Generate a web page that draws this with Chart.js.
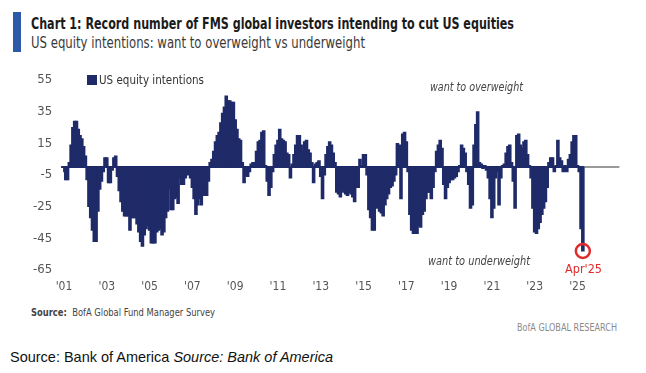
<!DOCTYPE html>
<html>
<head>
<meta charset="utf-8">
<script src="https://cdn.jsdelivr.net/npm/chart.js@4"></script>
<style>
  body { margin: 0; background: #fff; }
  #wrap { position: relative; width: 646px; height: 373px; overflow: hidden; font-family: "Liberation Sans Narrow", "DejaVu Sans Condensed", sans-serif; }
  #chartBox { position: absolute; left: 0; top: 0; width: 646px; height: 300px; }
  .t { position: absolute; white-space: nowrap; line-height: 1; transform-origin: 0 50%; }
</style>
</head>
<body>
<div id="wrap">
  <div style="position:absolute;left:13px;top:12px;width:8px;height:40px;background:#2c5aa8"></div>
  <div class="t" data-w="483" style="left:31px;top:17px;font-size:15px;font-weight:bold;color:#1b1b1b">Chart 1: Record number of FMS global investors intending to cut US equities</div>
  <div class="t" data-w="334" style="left:31px;top:36px;font-size:15px;color:#3a3a3a">US equity intentions: want to overweight vs underweight</div>

  <div id="chartBox"><canvas id="myChart"></canvas></div>

  <div style="position:absolute;left:87px;top:75px;width:10px;height:10px;background:#1f2a68"></div>
  <div class="t" data-w="105" style="left:99px;top:73px;font-size:13px;color:#333">US equity intentions</div>
  <div class="t" data-w="93" style="left:430px;top:81px;font-size:12px;font-style:italic;color:#444">want to overweight</div>
  <div class="t" data-w="102" style="left:428px;top:255px;font-size:12px;font-style:italic;color:#444">want to underweight</div>
  <div class="t" data-w="37" style="left:565px;top:262px;font-size:13px;color:#e02b2b">Apr'25</div>

  <div class="t" data-w="184" style="left:31px;top:307px;font-size:11px;color:#444"><b>Source:</b>&nbsp; BofA Global Fund Manager Survey</div>
  <div class="t" data-w="100" style="left:517px;top:322px;font-size:11px;color:#8a8a8a">BofA GLOBAL RESEARCH</div>
  <div class="t" data-w="323" style="left:10px;top:349px;font-size:15px;color:#111;font-family:'Liberation Sans',Arial,sans-serif">Source: Bank of America <i>Source: Bank of America</i></div>
</div>

<script>
// monthly net % wanting to overweight US equities, Jan 2001 - Apr 2025
const startYear = 2001;
const endYear = 2026; // axis runs on past the data
const usEquity = [
    -3, -8, -8, 3, 14, 25, 29, 29, 24, 20, 18, 13,          // 2001
    7, -8, -25, -32, -40, -47, -47, -28, -14, -9, -3, 6,    // 2002
    6, -10, -10, -2, 6, 7, -6, -15, -22, -28, -31, -31,     // 2003
    -31, -40, -32, -32, -32, -36, -41, -47, -50, -43, -39, -37, // 2004
    -40, -48, -48, -48, -41, -40, -39, -43, -41, -32, -28, -14, // 2005
    -27, -27, -20, -19, -23, -7, -11, -11, -7, -3, -5, -7,  // 2006
    -13, -20, -30, -24, -20, -24, -18, -18, -18, -9, 3, 5,  // 2007
    10, 16, 20, 22, 28, 34, 38, 45, 42, 42, 41, 41,         // 2008
    30, 24, 18, 17, 3, -10, -5, -6, -3, 2, 3, 3,            // 2009
    10, 16, 17, 22, 23, 1, -9, -18, -13, -3, 8, 14,         // 2010
    17, 24, 18, 17, 16, 9, 8, -7, 2, 8, 14, 20,             // 2011
    20, 14, 10, 16, 17, 11, 9, 3, -10, 2, 3, 4,             // 2012
    -6, -20, -5, 8, 13, 16, 14, 9, 3, -16, -17, -19,        // 2013
    -15, -16, -17, -18, -16, -17, -19, -22, -13, -13, 5, 1, // 2014
    8, 8, -5, -27, -32, -40, -40, -24, -26, -28, -29, -31,  // 2015
    -24, -20, -17, -13, -12, -9, -5, 15, 14, -20, 21, 22,   // 2016
    16, -3, -30, -40, -42, -42, -42, -37, -38, -30, -28, -20, // 2017
    -16, -16, -20, -13, -3, 10, 14, 17, 12, -11, -20, -13,  // 2018
    -10, -8, -8, -7, -6, -3, 1, 14, 12, 9, -3, -11,         // 2019
    -26, -24, 14, 27, 35, 3, 2, -1, 1, -2, -7, -20,         // 2020
    -32, -26, -7, -3, -24, -7, 1, 2, 9, 13, 14, 3,          // 2021
    -9, -26, 20, 21, 14, 12, 16, 17, 8, 1, -7, -26,         // 2022
    -41, -42, -39, -35, -30, -26, -22, -13, 3, 6, 6, -3,    // 2023
    1, 17, 6, 4, -3, 1, -3, 5, 8, 16, 20, 20,               // 2024
    1, -3, -39, -53                                          // 2025 (Jan-Apr)
];
const yTicks = [-65, -45, -25, -5, 15, 35, 55];

// squeeze the html labels to the widths seen in the original
document.querySelectorAll(".t[data-w]").forEach(el => {
    const w = el.getBoundingClientRect().width;
    el.style.transform = "scaleX(" + (+el.dataset.w / w) + ")";
});

// month labels for the whole axis
const months = [];
for (let y = startYear; y <= endYear; y++) {
    for (let m = 0; m < 12; m++) months.push(y + "-" + (m + 1));
}
const lastIdx = usEquity.length - 1;

// zero line: navy under the data, grey after it
const zeroLine = {
    id: "zeroLine",
    beforeDatasetsDraw(chart) {
        const { ctx, chartArea, scales } = chart;
        const y0 = scales.y.getPixelForValue(0);
        const xEnd = scales.x.getPixelForValue(lastIdx) + 1;
        ctx.save();
        ctx.lineWidth = 2;
        ctx.strokeStyle = "#9a9a9a";
        ctx.beginPath();
        ctx.moveTo(xEnd, y0);
        ctx.lineTo(chartArea.right, y0);
        ctx.stroke();
        ctx.strokeStyle = "#1f2a68";
        ctx.beginPath();
        ctx.moveTo(chartArea.left - 2, y0);
        ctx.lineTo(xEnd, y0);
        ctx.stroke();
        ctx.restore();
    }
};

// red ring on the latest reading
const ring = {
    id: "ring",
    afterDatasetsDraw(chart) {
        const { ctx, scales } = chart;
        const x = scales.x.getPixelForValue(lastIdx);
        const y = scales.y.getPixelForValue(usEquity[lastIdx]);
        ctx.save();
        ctx.strokeStyle = "#e02b2b";
        ctx.lineWidth = 2.5;
        ctx.beginPath();
        ctx.arc(x, y, 7, 0, Math.PI * 2);
        ctx.stroke();
        ctx.restore();
    }
};

const ctx = document.getElementById("myChart").getContext("2d");
const chart = new Chart(ctx, {
    type: "bar",
    data: {
        labels: months,
        datasets: [{
            label: "US equity intentions",
            data: usEquity,
            backgroundColor: "#1f2a68",
            borderWidth: 0,
            barThickness: 2.8,
            inflateAmount: 0.4
        }]
    },
    options: {
        responsive: true,
        maintainAspectRatio: false,
        animation: false,
        layout: { padding: { left: 0, top: 80, right: 26.6, bottom: 0 } },
        plugins: { legend: { display: false }, tooltip: { enabled: false } },
        scales: {
            x: {
                grid: { display: false, drawTicks: false },
                border: { display: false },
                afterFit: (s) => { s.height = 30; },
                ticks: {
                    autoSkip: false,
                    maxRotation: 0,
                    padding: 10,
                    color: "#555",
                    font: { family: "DejaVu Sans Condensed", size: 12 },
                    callback: function (v, i) {
                        const [yy, mm] = months[i].split("-");
                        if (mm === "1" && (+yy) % 2 === 1 && i <= lastIdx) return "'" + yy.slice(2);
                        return null;
                    }
                }
            },
            y: {
                min: -65,
                max: 55,
                afterFit: (s) => { s.width = 63.1; },
                afterBuildTicks: (s) => { s.ticks = yTicks.map(v => ({ value: v })); },
                grid: { display: false, drawTicks: false },
                border: { display: false },
                ticks: {
                    padding: 11,
                    color: "#555",
                    font: { family: "DejaVu Sans Condensed", size: 13 }
                }
            }
        }
    },
    plugins: [zeroLine, ring]
});
</script>
</body>
</html>
